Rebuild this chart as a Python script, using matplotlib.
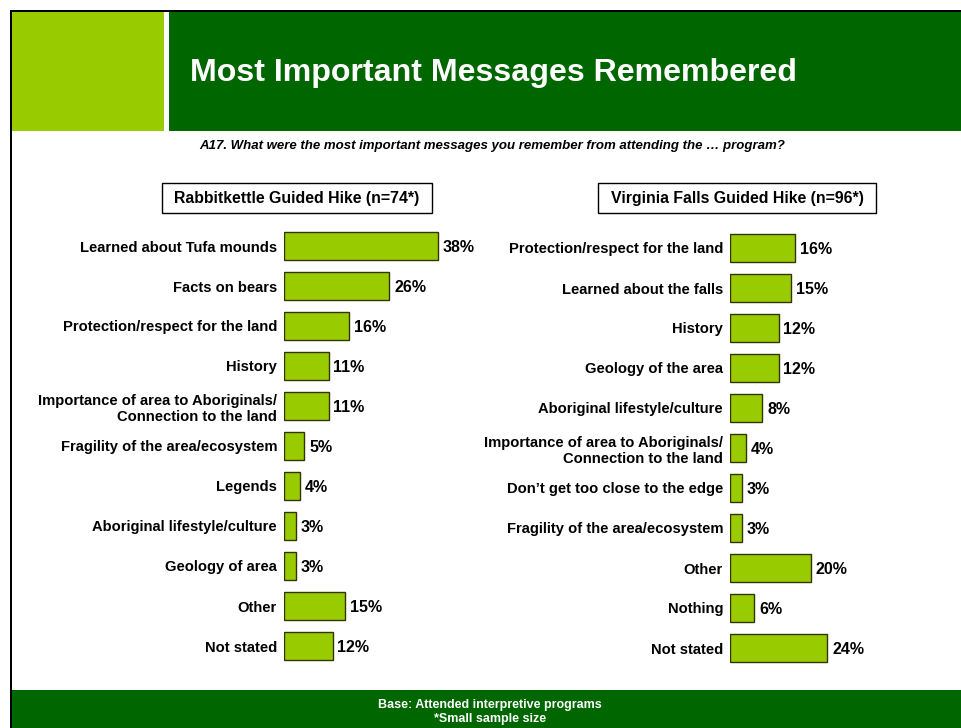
import matplotlib.pyplot as plt
from matplotlib.patches import Rectangle

plt.rcParams['font.family'] = ['Liberation Sans', 'DejaVu Sans']

W, H = 961, 728
DARK_GREEN = '#006600'
LIGHT_GREEN = '#99CC00'

# survey results, in percent
left_title = 'Rabbitkettle Guided Hike (n=74*)'
left_labels = [
    'Learned about Tufa mounds',
    'Facts on bears',
    'Protection/respect for the land',
    'History',
    'Importance of area to Aboriginals/\nConnection to the land',
    'Fragility of the area/ecosystem',
    'Legends',
    'Aboriginal lifestyle/culture',
    'Geology of area',
    'Other',
    'Not stated',
]
left_values = [38, 26, 16, 11, 11, 5, 4, 3, 3, 15, 12]

right_title = 'Virginia Falls Guided Hike (n=96*)'
right_labels = [
    'Protection/respect for the land',
    'Learned about the falls',
    'History',
    'Geology of the area',
    'Aboriginal lifestyle/culture',
    'Importance of area to Aboriginals/\nConnection to the land',
    'Don\u2019t get too close to the edge',
    'Fragility of the area/ecosystem',
    'Other',
    'Nothing',
    'Not stated',
]
right_values = [16, 15, 12, 12, 8, 4, 3, 3, 20, 6, 24]

fig = plt.figure(figsize=(W / 100, H / 100), dpi=100)


def px_rect(x0, y0, x1, y1, **kw):
    # rectangle given in pixel coords, origin at top-left
    fig.patches.append(Rectangle((x0 / W, 1 - y1 / H), (x1 - x0) / W, (y1 - y0) / H,
                                 transform=fig.transFigure, figure=fig, **kw))


def px_text(x, y, s, **kw):
    fig.text(x / W, 1 - y / H, s, **kw)


# frame and header blocks
px_rect(12, 12, 164, 131, color=LIGHT_GREEN, lw=0)
px_rect(169, 12, W, 131, color=DARK_GREEN, lw=0)
px_rect(10, 690, W, H, color=DARK_GREEN, lw=0)
px_rect(10, 10, W, 12, color='black', lw=0)
px_rect(10, 10, 12, H, color='black', lw=0)

px_text(190, 73, 'Most Important Messages Remembered', color='white',
        fontsize=23.1, fontweight='bold', va='center', ha='left')
px_text(492, 146, 'A17. What were the most important messages you remember from attending the \u2026 program?',
        fontsize=9.5, fontweight='bold', style='italic', ha='center', va='center')
px_text(490, 705, 'Base: Attended interpretive programs', color='white',
        fontsize=9, fontweight='bold', ha='center', va='center')
px_text(490, 719, '*Small sample size', color='white',
        fontsize=9, fontweight='bold', ha='center', va='center')


def panel(x_left, y_first, box, title, labels, values):
    n = len(values)
    top = y_first - 20
    ax = fig.add_axes([x_left / W, 1 - (top + 40 * n) / H, 162 / W, 40 * n / H])
    ys = list(range(n))
    ax.barh(ys, values, height=0.68, color=LIGHT_GREEN, edgecolor='#333300', lw=1)
    for y, v in zip(ys, values):
        ax.text(v + 1.2, y + 0.03, f'{v}%', va='center', ha='left',
                fontsize=11.5, fontweight='bold')
    ax.set_xlim(0, 40)
    ax.set_ylim(n - 0.5, -0.5)
    ax.set_yticks(ys)
    ax.set_yticklabels(labels, fontsize=10.6, fontweight='bold', linespacing=1.2)
    ax.tick_params(axis='y', length=0, pad=5)
    ax.set_xticks([])
    for s in ax.spines.values():
        s.set_visible(False)

    bx0, bx1 = box
    px_rect(bx0, 183, bx1, 213, facecolor='white', edgecolor='black', lw=1)
    px_text((bx0 + bx1) / 2, 198, title, fontsize=11.4, fontweight='bold',
            ha='center', va='center')


panel(284, 246, (162, 432), left_title, left_labels, left_values)
panel(730, 248, (598, 876), right_title, right_labels, right_values)

fig.savefig('out.png', dpi=100, facecolor='white')
